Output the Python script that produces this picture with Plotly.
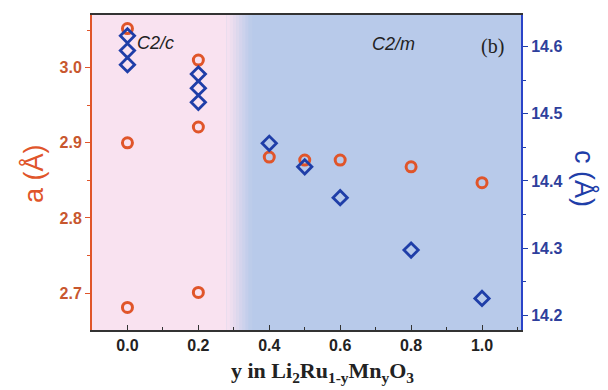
import plotly.graph_objects as go

# Data
x_a = [0.0, 0.0, 0.0, 0.2, 0.2, 0.2, 0.4, 0.5, 0.6, 0.8, 1.0]
a_vals = [3.052, 2.900, 2.681, 3.010, 2.921, 2.701, 2.881, 2.877, 2.877, 2.868, 2.847]
x_c = [0.0, 0.0, 0.0, 0.2, 0.2, 0.2, 0.4, 0.5, 0.6, 0.8, 1.0]
c_vals = [14.616, 14.594, 14.573, 14.559, 14.538, 14.517, 14.456, 14.421, 14.375, 14.297, 14.225]
x_ticks = [0.0, 0.2, 0.4, 0.6, 0.8, 1.0]
a_ticks = [2.7, 2.8, 2.9, 3.0]
c_ticks = [14.2, 14.3, 14.4, 14.5, 14.6]

ORANGE = "#e0552a"
ORANGE_T = "#c8572e"
BLUE = "#1f3ea8"
BLUE_T = "#2e3f9c"
PINK = "#f9e2f0"
LBLUE = "#b8caea"

fig = go.Figure()

# background regions
fig.add_shape(type="rect", xref="x", yref="paper", x0=-0.2, x1=0.28, y0=0, y1=1,
              fillcolor=PINK, line_width=0, layer="below")
steps = 8
def mix(c1, c2, t):
    a = [int(c1[i:i+2], 16) for i in (1, 3, 5)]
    b = [int(c2[i:i+2], 16) for i in (1, 3, 5)]
    return "rgb(%d,%d,%d)" % tuple(round(a[k] + (b[k]-a[k])*t) for k in range(3))
x0g, x1g = 0.28, 0.35
for i in range(steps):
    t = (i + 0.5) / steps
    fig.add_shape(type="rect", xref="x", yref="paper",
                  x0=x0g + (x1g-x0g)*i/steps, x1=x0g + (x1g-x0g)*(i+1)/steps + 0.002,
                  y0=0, y1=1, fillcolor=mix(PINK, LBLUE, t), line_width=0, layer="below")

fig.add_trace(go.Scatter(x=x_a, y=a_vals, mode="markers", yaxis="y",
                         marker=dict(symbol="circle-open", size=10, color=ORANGE,
                                     line=dict(width=3, color=ORANGE)),
                         showlegend=False))
fig.add_trace(go.Scatter(x=x_c, y=c_vals, mode="markers", yaxis="y2",
                         marker=dict(symbol="diamond-open", size=11, color=BLUE,
                                     line=dict(width=2.8, color=BLUE)),
                         showlegend=False))

fig.update_layout(
    width=608, height=390,
    margin=dict(l=92, r=87, t=15, b=60),
    paper_bgcolor="white",
    plot_bgcolor=LBLUE,
    xaxis=dict(range=[-0.1, 1.11], tickvals=x_ticks,
               ticktext=["<b>%.1f</b>" % v for v in x_ticks],
               ticks="inside", ticklen=5, tickcolor="#333",
               minor=dict(dtick=0.1, ticks="inside", ticklen=3, tickcolor="#333"),
               showline=True, linecolor="#333", linewidth=2, mirror=True,
               showgrid=False, zeroline=False,
               tickfont=dict(family="Arial", size=16, color="#222")),
    yaxis=dict(range=[2.651, 3.070], tickvals=a_ticks,
               ticktext=["<b>%.1f</b>" % v for v in a_ticks],
               ticks="outside", ticklen=5, tickcolor=ORANGE,
               minor=dict(dtick=0.05, ticks="outside", ticklen=3, tickcolor=ORANGE),
               showline=True, linecolor=ORANGE, linewidth=2,
               showgrid=False, zeroline=False,
               tickfont=dict(family="Arial", size=16, color=ORANGE_T)),
    yaxis2=dict(range=[14.178, 14.647], tickvals=c_ticks,
                ticktext=["<b>%.1f</b>" % v for v in c_ticks],
                overlaying="y", side="right",
                ticks="outside", ticklen=5, tickcolor=BLUE,
                minor=dict(dtick=0.05, ticks="outside", ticklen=3, tickcolor=BLUE),
                showline=True, linecolor="#2a44c8", linewidth=2,
                showgrid=False, zeroline=False,
                tickfont=dict(family="Arial", size=16, color=BLUE_T)),
)

annots = [
    dict(text="a (Å)", x=33, y=174, angle=-90, size=27, color=ORANGE, family="Arial"),
    dict(text="c (Å)", x=585, y=178, angle=90, size=27, color=BLUE, family="Arial"),
]
for a in annots:
    fig.add_annotation(text=a["text"], xref="paper", yref="paper",
                       x=(a["x"] - 92) / (608 - 92 - 87), y=1 - (a["y"] - 15) / (390 - 15 - 60),
                       xanchor="center", yanchor="middle", textangle=a["angle"],
                       showarrow=False, font=dict(family=a["family"], size=a["size"], color=a["color"]))

fig.add_annotation(text="<b>y in Li<sub>2</sub>Ru<sub>1-y</sub>Mn<sub>y</sub>O<sub>3</sub></b>",
                   xref="paper", yref="paper", x=(322 - 92) / 429, y=1 - (372 - 15) / 315,
                   xanchor="center", yanchor="middle", showarrow=False,
                   font=dict(family="Liberation Serif", size=22, color="#222"))
fig.add_annotation(text="<i>C2/c</i>", xref="paper", yref="paper",
                   x=(135 - 92) / 429, y=1 - (43 - 15) / 315, xanchor="left", yanchor="middle",
                   showarrow=False, font=dict(family="Arial", size=18, color="#222"))
fig.add_annotation(text="<i>C2/m</i>", xref="paper", yref="paper",
                   x=(393 - 92) / 429, y=1 - (44 - 15) / 315, xanchor="center", yanchor="middle",
                   showarrow=False, font=dict(family="Arial", size=18, color="#222"))
fig.add_annotation(text="(b)", xref="paper", yref="paper",
                   x=(492 - 92) / 429, y=1 - (46 - 15) / 315, xanchor="center", yanchor="middle",
                   showarrow=False, font=dict(family="Liberation Serif", size=20, color="#222"))

fig.write_html("out.html")
